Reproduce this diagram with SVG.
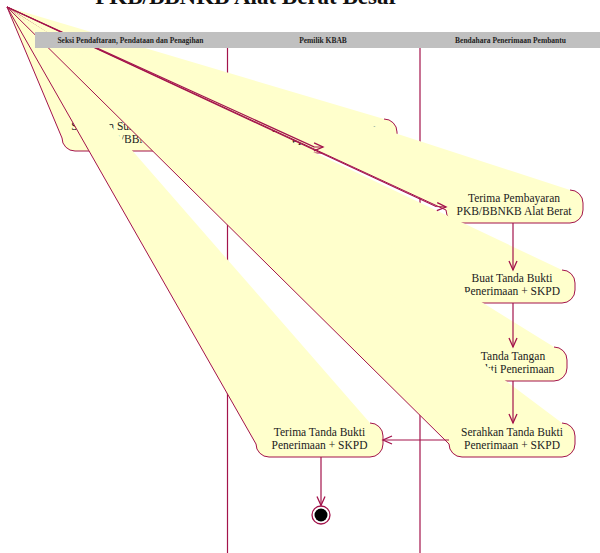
<svg xmlns="http://www.w3.org/2000/svg" width="600" height="553" viewBox="0 0 600 553">
  <defs>
    <style>
      .title { font-family: "Liberation Serif", serif; font-weight: bold; font-size: 23px; fill: #111; text-anchor: middle; }
      .lane { stroke: #A3134B; stroke-width: 1.2; fill: none; }
      .head { fill: #C0C0C0; }
      .headtxt { font-family: "Liberation Serif", serif; font-weight: bold; font-size: 7.5px; fill: #222; text-anchor: middle; }
      .act { fill: #FFFFCC; stroke: #A3134B; stroke-width: 1; }
      .txt { font-family: "Liberation Serif", serif; font-size: 11.5px; fill: #222; text-anchor: middle; }
      .conn { fill: none; stroke: #A3134B; stroke-width: 1.2; marker-end: url(#arr); }
    </style>
    <marker id="arr" markerUnits="userSpaceOnUse" markerWidth="12" markerHeight="10" refX="10" refY="5" orient="auto">
      <path d="M1,1 L10,5 L1,9" fill="none" stroke="#A3134B" stroke-width="1.3"/>
    </marker>
  </defs>

  <rect width="600" height="553" fill="#FFFFFF"/>

  <!-- diagram title -->
  <text class="title" x="247" y="4">PKB/BBNKB Alat Berat Besar</text>

  <!-- swimlane separators -->
  <g id="lanes">
    <line class="lane" x1="227.5" y1="48" x2="227.5" y2="553"/>
    <line class="lane" x1="420" y1="48" x2="420" y2="553"/>
  </g>

  <!-- activity states -->
  <g id="act1">
    <path class="act" d="M7,7 L62,138 A13,13 0 0 0 75,151 L187,151 A13,13 0 0 0 200,138 L200,130 A13,13 0 0 0 187,117"/>
    <text class="txt" x="131" y="130">Serahkan Surat Ketetapan</text>
    <text class="txt" x="131" y="143">PKB/BBNKB</text>
  </g>
  <g id="act2">
    <path class="act" d="M7,7 L251,140 A13,13 0 0 0 264,153 L384,153 A13,13 0 0 0 397,140 L397,132 A13,13 0 0 0 384,119"/>
    <text class="txt" x="324" y="132">Bayar Surat Ketetapan</text>
    <text class="txt" x="324" y="145">PKB/BBNKB</text>
  </g>
  <g id="act3">
    <path class="act" d="M7,7 L446,210 A13,13 0 0 0 459,223 L570,223 A13,13 0 0 0 583,210 L583,203 A13,13 0 0 0 570,190"/>
    <text class="txt" x="514" y="202">Terima Pembayaran</text>
    <text class="txt" x="514" y="215">PKB/BBNKB Alat Berat</text>
  </g>
  <g id="act4">
    <path class="act" d="M7,7 L449,290 A13,13 0 0 0 462,303 L562,303 A13,13 0 0 0 575,290 L575,283 A13,13 0 0 0 562,270"/>
    <text class="txt" x="512" y="282">Buat Tanda Bukti</text>
    <text class="txt" x="512" y="295">Penerimaan + SKPD</text>
  </g>
  <g id="act5">
    <path class="act" d="M7,7 L459,368 A13,13 0 0 0 472,381 L554,381 A13,13 0 0 0 567,368 L567,360 A13,13 0 0 0 554,347"/>
    <text class="txt" x="513" y="360">Tanda Tangan</text>
    <text class="txt" x="513" y="373">Bukti Penerimaan</text>
  </g>
  <g id="act6">
    <path class="act" d="M7,7 L449,444 A13,13 0 0 0 462,457 L562,457 A13,13 0 0 0 575,444 L575,436 A13,13 0 0 0 562,423"/>
    <text class="txt" x="512" y="436">Serahkan Tanda Bukti</text>
    <text class="txt" x="512" y="449">Penerimaan + SKPD</text>
  </g>
  <g id="act7">
    <path class="act" d="M7,7 L256,444 A13,13 0 0 0 269,457 L370,457 A13,13 0 0 0 383,444 L383,436 A13,13 0 0 0 370,423"/>
    <text class="txt" x="319.5" y="436">Terima Tanda Bukti</text>
    <text class="txt" x="319.5" y="449">Penerimaan + SKPD</text>
  </g>

  <!-- final state -->
  <g id="final">
    <circle cx="321" cy="515" r="9" fill="#FFFFFF" stroke="#A3134B" stroke-width="1.3"/>
    <circle cx="321" cy="515" r="6.5" fill="#000000"/>
  </g>

  <!-- transitions -->
  <g id="connectors">
    <path class="conn" d="M7,7 L314,146.8 L323,147"/>
    <path class="conn" d="M7,7 L436,206.5 L446,207"/>
    <path class="conn" d="M513,223 L513,270"/>
    <path class="conn" d="M513,303 L513,347"/>
    <path class="conn" d="M513,381 L513,423"/>
    <path class="conn" d="M449,440 L383,440"/>
    <path class="conn" d="M321,457 L321,505.5"/>
  </g>

  <!-- swimlane header -->
  <g id="header">
    <rect class="head" x="35" y="32" width="565" height="16"/>
    <text class="headtxt" x="130.5" y="42.5">Seksi Pendaftaran, Pendataan dan Penagihan</text>
    <text class="headtxt" x="323" y="42.5">Pemilik KBAB</text>
    <text class="headtxt" x="510.5" y="42.5">Bendahara Penerimaan Pembantu</text>
  </g>
</svg>
